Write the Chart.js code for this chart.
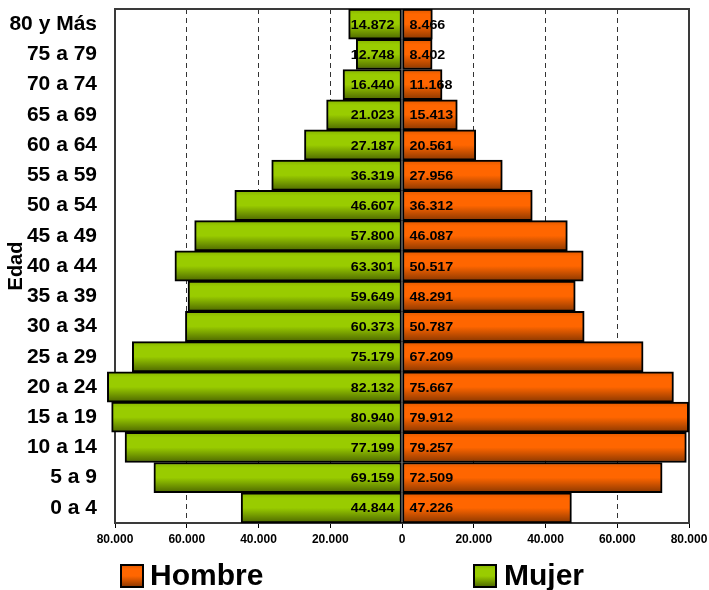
<!DOCTYPE html>
<html><head><meta charset="utf-8">
<script src="https://cdn.jsdelivr.net/npm/chart.js@4"></script>
<style>html,body{margin:0;padding:0;background:#fff}#wrap{width:709px;height:590px;position:relative}</style>
</head><body><div id="wrap"><canvas id="c" width="709" height="590"></canvas></div>
<script>
const categories = ["80 y Más","75 a 79","70 a 74","65 a 69","60 a 64","55 a 59","50 a 54","45 a 49","40 a 44","35 a 39","30 a 34","25 a 29","20 a 24","15 a 19","10 a 14","5 a 9","0 a 4"];
const mujer = [14872,12748,16440,21023,27187,36319,46607,57800,63301,59649,60373,75179,82132,80940,77199,69159,44844];
const hombre = [8466,8402,11168,15413,20561,27956,36312,46087,50517,48291,50787,67209,75667,79912,79257,72509,47226];
const xTickValues = [-80000,-60000,-40000,-20000,0,20000,40000,60000,80000];
const seriesNames = ["Hombre","Mujer"];
const axisTitle = "Edad";

const FONT = '"Liberation Sans", Arial, Helvetica, sans-serif';
const PAL = {
  Hombre: ['#e05a00','#ff6600','#ff6600','#8a3700'],
  Mujer:  ['#86b300','#99cc00','#99cc00','#4c6600']
};
function fmt(v){ return String(Math.round(v)).replace(/\B(?=(\d{3})+(?!\d))/g,'.'); }
function grad(ctx, top, h, stops){
  const g = ctx.createLinearGradient(0, top, 0, top + h);
  g.addColorStop(0, stops[0]); g.addColorStop(0.18, stops[1]);
  g.addColorStop(0.5, stops[2]); g.addColorStop(1, stops[3]);
  return g;
}
function barBg(name){
  return (c) => {
    const chart = c.chart, ys = chart.scales.y, area = chart.chartArea;
    if (!ys || !area || c.dataIndex === undefined) return PAL[name][1];
    const band = area.height / categories.length;
    const cy = ys.getPixelForValue(c.dataIndex);
    return grad(chart.ctx, cy - band/2, band, PAL[name]);
  };
}

const framePlugin = {
  id: 'frame',
  beforeDatasetsDraw(chart){
    const {ctx, chartArea:a} = chart;
    ctx.save(); ctx.strokeStyle = '#3a3a3a'; ctx.lineWidth = 2;
    ctx.strokeRect(a.left, a.top, a.right - a.left, a.bottom - a.top);
    ctx.restore();
  }
};
const labelPlugin = {
  id: 'vals',
  afterDatasetsDraw(chart){
    const ctx = chart.ctx;
    ctx.save();
    ctx.font = 'bold 13px ' + FONT; ctx.fillStyle = '#000'; ctx.textBaseline = 'middle';
    chart.data.datasets.forEach((ds, di) => {
      chart.getDatasetMeta(di).data.forEach((el, i) => {
        const v = ds.data[i], neg = v < 0;
        ctx.save();
        ctx.translate(el.base + (neg ? -7 : 7), el.y + 1);
        ctx.scale(1.1, 1);
        ctx.textAlign = neg ? 'right' : 'left';
        ctx.fillText(fmt(Math.abs(v)), 0, 0);
        ctx.restore();
      });
    });
    ctx.restore();
  }
};
const legendPlugin = {
  id: 'leg',
  afterDraw(chart){
    const ctx = chart.ctx;
    const pos = [{bx:121, tx:150}, {bx:474, tx:504}];
    ctx.save();
    seriesNames.forEach((n, i) => {
      const p = pos[i];
      ctx.fillStyle = grad(ctx, 565, 22, PAL[n]);
      ctx.fillRect(p.bx, 565, 22, 22);
      ctx.strokeStyle = '#000'; ctx.lineWidth = 2;
      ctx.strokeRect(p.bx, 565, 22, 22);
      ctx.fillStyle = '#000'; ctx.font = 'bold 30px ' + FONT;
      ctx.textBaseline = 'alphabetic'; ctx.textAlign = 'left';
      ctx.fillText(n, p.tx, 585);
    });
    ctx.restore();
  }
};

new Chart(document.getElementById('c'), {
  type: 'bar',
  data: {
    labels: categories,
    datasets: [
      { label: seriesNames[0], data: hombre, backgroundColor: barBg('Hombre') },
      { label: seriesNames[1], data: mujer.map(v => -v), backgroundColor: barBg('Mujer') }
    ]
  },
  options: {
    indexAxis: 'y',
    responsive: false,
    animation: false,
    layout: { padding: { top: 9, right: 20, bottom: 37, left: 0 } },
    datasets: { bar: { barPercentage: 1, categoryPercentage: 1, borderWidth: 2, borderColor: '#000', borderSkipped: false, clip: false } },
    plugins: { legend: { display: false }, tooltip: { enabled: false } },
    scales: {
      x: {
        type: 'linear', min: -80000, max: 80000, stacked: true,
        afterBuildTicks: s => { s.ticks = xTickValues.map(v => ({value: v})); },
        ticks: { callback: v => fmt(Math.abs(v)), font: { family: FONT, size: 12, weight: 'bold' }, color: '#000', padding: 4, maxRotation: 0 },
        grid: {
          color: c => (c.tick && Math.abs(c.tick.value) % 80000 !== 0) ? '#333' : 'rgba(0,0,0,0)',
          tickColor: '#000', tickLength: 5, lineWidth: 1
        },
        border: { display: false, dash: [5, 4] },
        afterFit: s => { s.height = 30; s.paddingLeft = 0; s.paddingRight = 0; }
      },
      y: {
        type: 'category', stacked: true, offset: true,
        grid: { display: false, drawTicks: false },
        border: { display: false },
        ticks: { font: { family: FONT, size: 21, weight: 'bold' }, color: '#000', padding: 18, autoSkip: false },
        title: { display: true, text: axisTitle, font: { family: FONT, size: 20, weight: 'bold' }, color: '#000', padding: { top: 4, bottom: 0 } },
        afterFit: s => { s.width = 115; s.paddingTop = 0; s.paddingBottom = 0; }
      }
    }
  },
  plugins: [framePlugin, labelPlugin, legendPlugin]
});
</script></body></html>
